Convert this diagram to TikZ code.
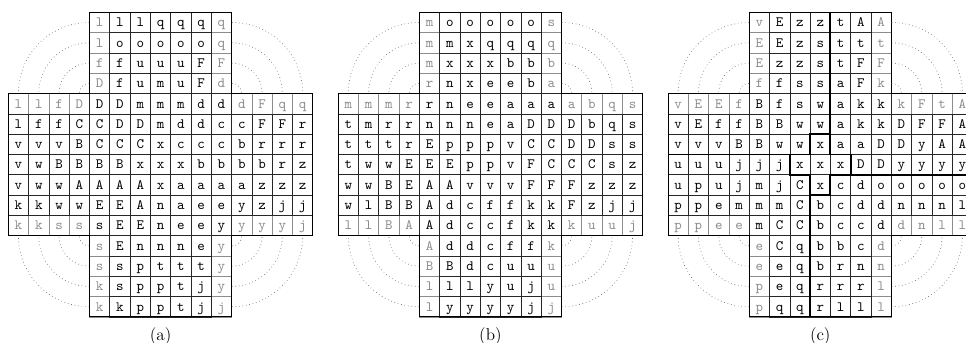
\documentclass[tikz,border=0pt]{standalone}
\usetikzlibrary{positioning}
\pgfdeclarelayer{paper}
\pgfdeclarelayer{back}
\pgfsetlayers{paper,back,main}

% one cube net: #1 = name prefix, #2 = the 15 rows of letters
\newcommand{\drawnet}[2]{%
  \foreach \row [count=\rw from 0] in {#2} {
    \pgfmathtruncatemacro{\first}{(\rw<4 || \rw>10) ? 4 : 0}
    \foreach \ch [count=\cl from \first] in \row {
      \pgfmathtruncatemacro{\isgray}{(\rw<4 || \rw>10) ? (\cl==4 || \cl==10) : ((\rw==4 || \rw==10) ? (\cl<4 || \cl>10) : 0)}
      \ifnum\isgray=1
        \begin{pgfonlayer}{back}
          \node[halo] (#1-\rw-\cl) at (\cl+0.5,-\rw-0.5) {\ch};
        \end{pgfonlayer}
      \else
        \node[cell] (#1-\rw-\cl) at (\cl+0.5,-\rw-0.5) {\ch};
      \fi
    }
  }
  % outline of the cross
  \draw[outline] (4,0) -- (11,0) -- (11,-4) -- (15,-4) -- (15,-11) -- (11,-11) -- (11,-15)
    -- (4,-15) -- (4,-11) -- (0,-11) -- (0,-4) -- (4,-4) -- cycle;
  % wrap-around links between halo cells
  \foreach \k [evaluate=\k as \m using int(14-\k)] in {0,...,3} {
    \draw[wrap] (#1-\k-4.west) to[out=180, in=90] (#1-4-\k.north);
    \draw[wrap] (#1-\k-10.east) to[out=0, in=90] (#1-4-\m.north);
    \draw[wrap] (#1-\m-4.west) to[out=180, in=270] (#1-10-\k.south);
    \draw[wrap] (#1-\m-10.east) to[out=0, in=270] (#1-10-\m.south);
  }
}

\begin{document}
\begin{tikzpicture}[x=5mm, y=5mm,
    cell/.style={rectangle, draw=black!85, line width=0.45pt, minimum size=5mm, inner sep=0pt,
      font=\ttfamily\normalsize, text height=1.4ex, text depth=0pt},
    halo/.style={cell, draw=black!45, text=black!45},
    outline/.style={draw=black, line width=0.6pt},
    seam/.style={draw=black, line width=1.3pt},
    wrap/.style={draw=black!60, dotted, line width=0.45pt},
    caption/.style={font=\large}
]
    \begin{pgfonlayer}{paper}
      \fill[white] (-0.41,0.61) rectangle (47.18,-16.24);
    \end{pgfonlayer}
    \useasboundingbox (-0.41,0.61) rectangle (47.18,-16.24);

    % (a)
    \begin{scope}
      \drawnet{a}{
        {l,l,l,q,q,q,q},
        {l,o,o,o,o,o,q},
        {f,f,u,u,u,F,F},
        {D,f,u,m,u,F,d},
        {l,l,f,D,D,D,m,m,m,d,d,d,F,q,q},
        {l,f,f,C,C,D,D,m,d,d,c,c,F,F,r},
        {v,v,v,B,C,C,C,x,c,c,c,b,r,r,r},
        {v,w,B,B,B,B,x,x,x,b,b,b,b,r,z},
        {v,w,w,A,A,A,A,x,a,a,a,a,z,z,z},
        {k,k,w,w,E,E,A,n,a,e,e,y,z,j,j},
        {k,k,s,s,s,E,E,n,e,e,y,y,y,y,j},
        {s,E,n,n,n,e,y},
        {s,s,p,t,t,t,y},
        {k,s,p,p,t,j,y},
        {k,k,p,p,t,j,j}}
      \node[caption] (capa) at (7.5,-15.95) {(a)};
    \end{scope}

    % (b)
    \begin{scope}[shift={(16.25,0)}]
      \drawnet{b}{
        {m,o,o,o,o,o,s},
        {m,m,x,q,q,q,q},
        {m,x,x,x,b,b,b},
        {r,n,x,e,e,b,a},
        {m,m,m,r,r,n,e,e,a,a,a,a,b,q,s},
        {t,m,r,r,n,n,n,e,a,D,D,D,b,q,s},
        {t,t,t,r,E,p,p,p,v,C,C,D,D,s,s},
        {t,w,w,E,E,E,p,p,v,F,C,C,C,s,z},
        {w,w,B,E,A,A,v,v,v,F,F,F,z,z,z},
        {w,l,B,B,A,d,c,f,f,k,k,F,z,j,j},
        {l,l,B,A,A,d,c,c,f,k,k,k,u,u,j},
        {A,d,d,c,f,f,k},
        {B,B,d,c,u,u,u},
        {l,l,l,y,u,j,u},
        {l,y,y,y,y,j,j}}
      \node[caption] (capb) at (7.5,-15.95) {(b)};
    \end{scope}

    % (c)
    \begin{scope}[shift={(32.5,0)}]
      \drawnet{c}{
        {v,E,z,z,t,A,A},
        {E,E,z,s,t,t,t},
        {E,z,z,s,t,F,F},
        {f,f,s,s,a,F,k},
        {v,E,E,f,B,f,s,w,a,k,k,k,F,t,A},
        {v,E,f,f,B,B,w,w,a,k,k,D,F,F,A},
        {v,v,v,B,B,w,w,x,a,a,D,D,y,A,A},
        {u,u,u,j,j,j,x,x,x,D,D,y,y,y,y},
        {u,p,u,j,m,j,C,x,c,d,o,o,o,o,o},
        {p,p,e,m,m,m,C,b,c,d,d,n,n,n,l},
        {p,p,e,e,m,C,C,b,c,c,d,d,n,l,l},
        {e,C,q,b,b,c,d},
        {e,e,q,b,r,n,n},
        {p,e,q,r,r,r,l},
        {p,q,q,r,l,l,l}}
      % partition seams round the x cells
      \draw[seam] (8,0) -- (8,-7) -- (9,-7) -- (9,-8) -- (15,-8);
      \draw[seam] (0,-7) -- (7,-7) -- (7,-6) -- (8,-6);
      \draw[seam] (6,-7) -- (6,-8) -- (7,-8) -- (7,-15);
      \draw[seam] (9,-8) -- (8,-8) -- (8,-9) -- (7,-9);
      \node[caption] (capc) at (7.5,-15.95) {(c)};
    \end{scope}
\end{tikzpicture}
\end{document}
